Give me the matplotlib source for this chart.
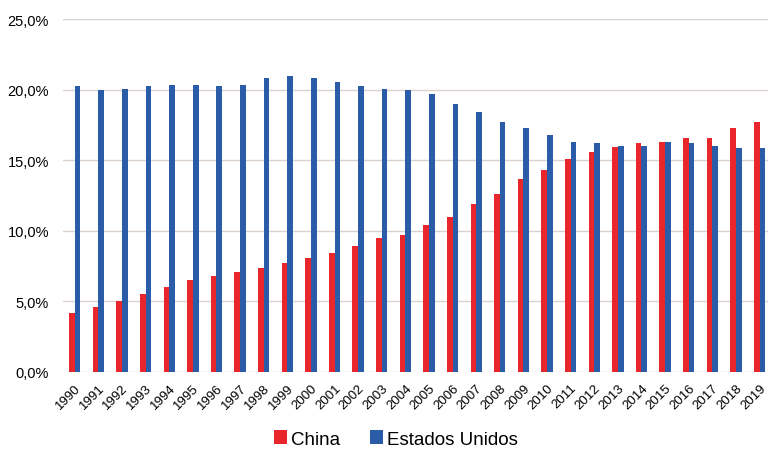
import numpy as np
import matplotlib
matplotlib.use("Agg")
import matplotlib.pyplot as plt
from matplotlib.ticker import FuncFormatter

years = [str(y) for y in range(1990, 2020)]
china = [4.2, 4.6, 5.0, 5.5, 6.0, 6.5, 6.8, 7.1, 7.4, 7.75, 8.05, 8.4, 8.9, 9.5, 9.7,
         10.4, 11.0, 11.9, 12.6, 13.7, 14.3, 15.1, 15.6, 15.9, 16.2, 16.3, 16.6, 16.6, 17.3, 17.7]
eeuu = [20.25, 19.95, 20.05, 20.25, 20.35, 20.35, 20.25, 20.35, 20.85, 20.95, 20.85, 20.55, 20.25, 20.05, 19.95,
        19.7, 19.0, 18.4, 17.7, 17.3, 16.8, 16.3, 16.2, 16.0, 16.0, 16.3, 16.2, 16.0, 15.85, 15.85]

plt.rcParams['font.family'] = ['Liberation Sans', 'DejaVu Sans']

fig = plt.figure(figsize=(7.68, 4.52), dpi=100)
ax = fig.add_axes([63/768, 1 - 373/452, (768 - 63)/768, (373 - 20)/452])

x = np.arange(len(years))
w = 0.24
ax.bar(x - w/2, china, width=w, color="#e8262b", label="China", zorder=3)
ax.bar(x + w/2, eeuu, width=w, color="#2b5ca8", label="Estados Unidos", zorder=3)

ax.set_ylim(0, 25)
ax.set_yticks(np.arange(0, 26, 5))
ax.yaxis.set_major_formatter(FuncFormatter(lambda v, p: f"{v:.1f}%".replace(".", ",")))
ax.set_xlim(-0.5, 29.36)
ax.set_xticks(x)
ax.set_xticklabels(years, rotation=45, ha="right", rotation_mode="anchor", fontsize=9.5)
ax.tick_params(axis="y", labelsize=10.5, length=0, pad=10)
ax.tick_params(axis="x", length=0, pad=7)
ax.grid(axis="y", color="#dcd2cd", linewidth=1, zorder=0)
for s in ax.spines.values():
    s.set_visible(False)

fig.legend(loc="center", bbox_to_anchor=(0.515, 1 - 440/452), ncol=2, frameon=False,
           fontsize=13.5, handlelength=0.7, handleheight=0.7, handletextpad=0.2, columnspacing=1.6)

fig.savefig("out.png", dpi=100)
